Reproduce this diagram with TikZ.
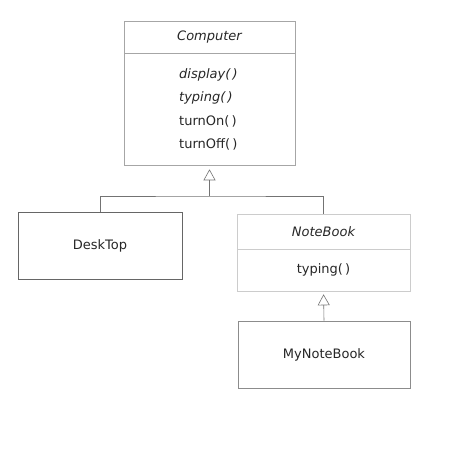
\documentclass[tikz,border=0pt]{standalone}
\usepackage{fontspec}
\setmainfont{DejaVu Sans}
\usetikzlibrary{arrows.meta}
\begin{document}
\begin{tikzpicture}[x=1pt,y=-1pt,
  every node/.style={font=\fontsize{13}{15}\selectfont, text=black!85},
  box/.style={draw=black!35, line width=0.6pt, rectangle, inner sep=0pt},
  lbl/.style={inner sep=0pt},
  conn/.style={draw=black!55, line width=0.6pt},
  inh/.style={conn, -{Triangle[open, length=11pt, width=12pt]}}]
\useasboundingbox (0,0) rectangle (464,459);
% Computer
\node[box, minimum width=171pt, minimum height=32pt] (compt) at (209.5,37) {\itshape Computer};
\node[box, minimum width=171pt, minimum height=112pt] (comp) at (209.5,109) {};
\node[lbl, anchor=west] (m1) at (179,75) {\itshape display(\,)};
\node[lbl, anchor=west] (m2) at (179,98) {\itshape typing(\,)};
\node[lbl, anchor=west] (m3) at (179,121) {turnOn(\,)};
\node[lbl, anchor=west] (m4) at (179,144) {turnOff(\,)};
% DeskTop
\node[box, draw=black!60, minimum width=164pt, minimum height=67pt] (desk) at (100,245.5) {DeskTop};
% NoteBook
\node[box, draw=black!20, minimum width=173pt, minimum height=35pt] (nbt) at (323.5,231.5) {\itshape NoteBook};
\node[box, draw=black!20, minimum width=173pt, minimum height=42pt] (nbm) at (323.5,270) {typing(\,)};
% MyNoteBook
\node[box, draw=black!45, minimum width=172pt, minimum height=67pt] (mynb) at (324,354.5) {MyNoteBook};
% connectors
\coordinate (j1) at (209.5,196);
\draw[conn] (desk.north) |- (j1) -| (nbt.north);
\draw[inh, shorten >=4pt] (j1) -- (comp.south);
\draw[inh, shorten >=3pt] (mynb.north) -- (nbm.south);
\end{tikzpicture}
\end{document}
